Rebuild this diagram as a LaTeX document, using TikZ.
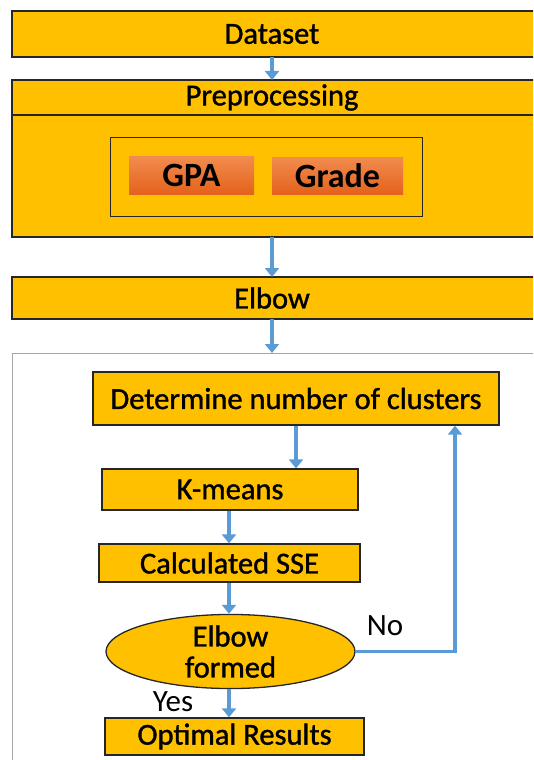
\documentclass[tikz,border=0pt]{standalone}
\usepackage{fontspec}
\setmainfont{Carlito}
\newfontfamily\labelfont[FakeBold=1.2]{Carlito}
\usetikzlibrary{arrows.meta,shapes.geometric}
\definecolor{gold}{HTML}{FFC000}
\definecolor{orangeA}{HTML}{F28C4E}
\definecolor{orangeB}{HTML}{E4621C}
\definecolor{flow}{HTML}{5B9BD5}
\definecolor{edge}{HTML}{262626}
\begin{document}
\begin{tikzpicture}[x=1pt,y=-1pt,
  box/.style={draw=edge,line width=1.3pt,fill=gold},
  lbl/.style={font=\labelfont\fontsize{30.5}{32}\selectfont,text=black},
  orbox/.style={top color=orangeA,bottom color=orangeB,draw=none},
  arr/.style={draw=flow,line width=3.5pt,-{Triangle[length=9pt,width=14pt]}},
  note/.style={font=\fontsize{31}{33}\selectfont,text=black}]
\useasboundingbox (0,0) rectangle (533,760);
\clip (0,0) rectangle (533,760);
% top boxes
\draw[box] (12,11) rectangle (545,57);
\node[lbl] (dataset) at (272,34) {Dataset};
\coordinate (dsb) at (272,57);
\draw[box] (12,80) rectangle (545,237);
\draw[edge,line width=1.3pt] (12,115) -- (545,115);
\node[lbl] (prep) at (272,97.5) {Preprocessing};
\coordinate (prt) at (272,80);
\coordinate (prb) at (272,237);
\draw[draw=edge,line width=0.6pt] (110,137) rectangle (422,216);
\node[orbox,minimum width=125pt,minimum height=38pt,font=\fontsize{34}{36}\selectfont\bfseries] (gpa) at (191.5,175) {GPA};
\node[orbox,minimum width=131pt,minimum height=37pt,font=\fontsize{34}{36}\selectfont\bfseries] (grade) at (337.5,175.5) {Grade};
\draw[box] (12,277) rectangle (545,319);
\node[lbl] (elbow) at (272,298) {Elbow};
\coordinate (elt) at (272,277);
\coordinate (elb) at (272,319);
% container
\draw[draw=gray!70,line width=0.8pt] (12,353) rectangle (560,780);
\coordinate (ct) at (272,353);
% inner flow
\node[box,minimum width=406pt,minimum height=53pt,inner sep=0pt,lbl] (det) at (296,398.5) {Determine number of clusters};
\node[box,minimum width=256pt,minimum height=41pt,inner sep=0pt,lbl] (km) at (230,489.5) {K-means};
\node[box,minimum width=261pt,minimum height=38pt,inner sep=0pt,lbl] (sse) at (229.5,563) {Calculated SSE};
\node[ellipse,draw=edge,line width=1.3pt,fill=gold,minimum width=249pt,minimum height=61pt,inner sep=0pt,align=center,lbl,font=\labelfont\fontsize{30.5}{31}\selectfont] (ef) at (230.5,651.5) {Elbow\\formed};
\node[box,minimum width=259pt,minimum height=37pt,inner sep=0pt,lbl] (opt) at (234.5,736.5) {Optimal Results};
\node[note] (no) at (385,626) {No};
\node[note] (yes) at (173,702) {Yes};
% arrows
\draw[arr] (dsb) -- (prt);
\draw[arr] (prb) -- (elt);
\draw[arr] (elb) -- (ct);
\draw[arr] (det.south -| 296,0) -- (km.north -| 296,0);
\draw[arr] (km.south -| 229,0) -- (sse.north -| 229,0);
\draw[arr] (sse.south -| 229,0) -- (ef.north -| 229,0);
\draw[arr] (ef.south -| 229,0) -- (opt.north -| 229,0);
\draw[arr] (ef.east) -- (455,651.5) -- (det.south -| 455,0);
\end{tikzpicture}
\end{document}
